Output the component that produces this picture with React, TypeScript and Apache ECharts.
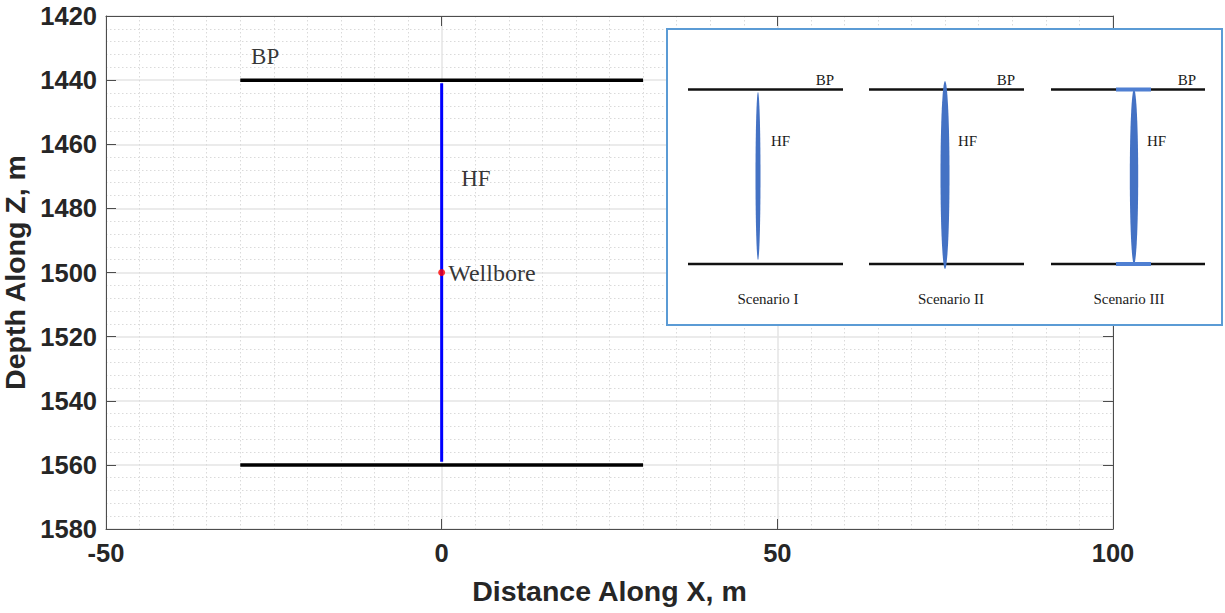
import React, { useEffect, useRef } from "react";
import * as echarts from "echarts";

// Axis ranges and ticks
const xRange = [-50, 100];
const xStep = 50;
const yRange = [1420, 1580];
const yStep = 20;

// Bounding planes (BP): depth of each plane and its lateral extent
const bpDepths = [1440, 1560];
const bpExtent = [-30, 30];

// Hydraulic fracture (HF) trace along the wellbore axis
const hfX = 0;
const hfDepths = [1441, 1559];

// Wellbore location
const wellbore = [0, 1500];

// Text annotations: [x, depth, text]
const annotations: [number, number, string][] = [
  [-26.3, 1432.5, "BP"],
  [5.1, 1470.8, "HF"],
];

// Inset scenarios
const scenarioNames = ["Scenario I", "Scenario II", "Scenario III"];

const serif = '"Liberation Serif", "Times New Roman", serif';
const sans = '"Liberation Sans", Arial, sans-serif';

function buildInset() {
  // panel layout of the inset (pixels)
  const box = { x: 667, y: 29, w: 555, h: 296 };
  const panels = [
    { left: 688, right: 843, cx: 758, top: 92, bottom: 260, rx: 2.5, caps: false, label: 768 },
    { left: 869, right: 1024, cx: 945, top: 81, bottom: 269, rx: 4.5, caps: false, label: 951 },
    { left: 1051, right: 1205, cx: 1134, top: 89, bottom: 264, rx: 4.2, caps: true, label: 1129 },
  ];
  const topY = 89.5;
  const botY = 264;
  const blue = "#4472c4";
  const z = 100;
  const textFont = `15px ${serif}`;
  const children: any[] = [
    {
      type: "rect",
      z,
      shape: { x: box.x, y: box.y, width: box.w, height: box.h },
      style: { fill: "#ffffff", stroke: "#5b9bd5", lineWidth: 2 },
    },
  ];
  panels.forEach((p, i) => {
    children.push(
      { type: "line", z: z + 1, shape: { x1: p.left, y1: topY, x2: p.right, y2: topY }, style: { stroke: "#111", lineWidth: 2.5 } },
      { type: "line", z: z + 1, shape: { x1: p.left, y1: botY, x2: p.right, y2: botY }, style: { stroke: "#111", lineWidth: 2.5 } },
      {
        type: "ellipse",
        z: z + 2,
        shape: { cx: p.cx, cy: (p.top + p.bottom) / 2, rx: p.rx, ry: (p.bottom - p.top) / 2 },
        style: { fill: blue },
      },
      {
        type: "text",
        z: z + 3,
        style: { text: "BP", x: p.right - 9, y: 80, fill: "#1a1a1a", font: textFont, align: "right", verticalAlign: "middle" },
      },
      {
        type: "text",
        z: z + 3,
        style: { text: "HF", x: p.cx + 13, y: 141, fill: "#1a1a1a", font: textFont, align: "left", verticalAlign: "middle" },
      },
      {
        type: "text",
        z: z + 3,
        style: { text: scenarioNames[i], x: p.label, y: 299, fill: "#1a1a1a", font: textFont, align: "center", verticalAlign: "middle" },
      }
    );
    if (p.caps) {
      children.push(
        { type: "rect", z: z + 2, shape: { x: p.cx - 18, y: topY - 2, width: 35, height: 4 }, style: { fill: "#4f7fd2" } },
        { type: "rect", z: z + 2, shape: { x: p.cx - 18, y: botY - 2, width: 35, height: 4 }, style: { fill: "#4f7fd2" } }
      );
    }
  });
  return [{ type: "group", z, children }];
}

export default function App() {
  const ref = useRef<HTMLDivElement>(null);

  useEffect(() => {
    document.body.style.margin = "0";
    const chart = echarts.init(ref.current!, undefined, { renderer: "svg" });

    const axisLine = { show: true, onZero: false, lineStyle: { color: "#4d4d4d", width: 1 } };
    const tick = { show: true, inside: true, length: 10, lineStyle: { color: "#4d4d4d" } };
    const labelStyle = { fontSize: 25.5, fontWeight: "bold", color: "#262626", fontFamily: sans, formatter: (v: number) => String(v) };
    const titleStyle = { fontSize: 28.5, fontWeight: "bold", color: "#262626", fontFamily: sans };
    const majorGrid = { show: true, lineStyle: { color: "#e4e4e4", width: 1.5 } };
    const minorGrid = { show: true, lineStyle: { color: "#dadada", width: 1, type: [1.5, 2.5] } };

    const option: any = {
      animation: false,
      backgroundColor: "#ffffff",
      grid: { left: 106, top: 16, right: 112, bottom: 84, containLabel: false, outerBoundsMode: "none" },
      xAxis: [
        {
          type: "value",
          min: xRange[0],
          max: xRange[1],
          interval: xStep,
          position: "bottom",
          axisLine,
          axisTick: tick,
          minorTick: { show: false, splitNumber: 10 },
          minorSplitLine: minorGrid,
          splitLine: majorGrid,
          axisLabel: { ...labelStyle, margin: 11 },
          name: "Distance Along X, m",
          nameLocation: "middle",
          nameGap: 47,
          nameTextStyle: titleStyle,
        },
        {
          type: "value",
          min: xRange[0],
          max: xRange[1],
          interval: xStep,
          position: "top",
          axisLine,
          axisTick: tick,
          axisLabel: { show: false },
          splitLine: { show: false },
        },
      ],
      yAxis: [
        {
          type: "value",
          inverse: true,
          min: yRange[0],
          max: yRange[1],
          interval: yStep,
          position: "left",
          axisLine,
          axisTick: tick,
          minorTick: { show: false, splitNumber: 5 },
          minorSplitLine: minorGrid,
          splitLine: majorGrid,
          axisLabel: { ...labelStyle, margin: 9 },
          name: "Depth Along Z, m",
          nameLocation: "middle",
          nameGap: 65,
          nameTextStyle: titleStyle,
        },
        {
          type: "value",
          inverse: true,
          min: yRange[0],
          max: yRange[1],
          interval: yStep,
          position: "right",
          axisLine,
          axisTick: tick,
          axisLabel: { show: false },
          splitLine: { show: false },
        },
      ],
      series: [
        ...bpDepths.map((d) => ({
          type: "line",
          name: "BP",
          symbol: "none",
          z: 3,
          lineStyle: { color: "#000000", width: 3.5 },
          data: [
            [bpExtent[0], d],
            [bpExtent[1], d],
          ],
        })),
        {
          type: "line",
          name: "HF",
          symbol: "none",
          z: 4,
          lineStyle: { color: "#0000ff", width: 3 },
          data: hfDepths.map((d) => [hfX, d]),
        },
        {
          type: "scatter",
          name: "Wellbore",
          z: 5,
          symbolSize: 7,
          itemStyle: { color: "#ff0000" },
          label: {
            show: true,
            position: "right",
            distance: 3,
            formatter: "Wellbore",
            fontSize: 24,
            fontFamily: serif,
            color: "#000",
          },
          data: [wellbore],
        },
        {
          type: "scatter",
          name: "annotations",
          z: 5,
          symbolSize: 0,
          silent: true,
          label: {
            show: true,
            position: "inside",
            formatter: (p: any) => p.value[2],
            fontSize: 23,
            fontFamily: serif,
            color: "#000",
          },
          data: annotations,
        },
      ],
      graphic: buildInset(),
    };

    chart.setOption(option);
    return () => chart.dispose();
  }, []);

  return <div ref={ref} style={{ width: 1225, height: 613 }} />;
}
